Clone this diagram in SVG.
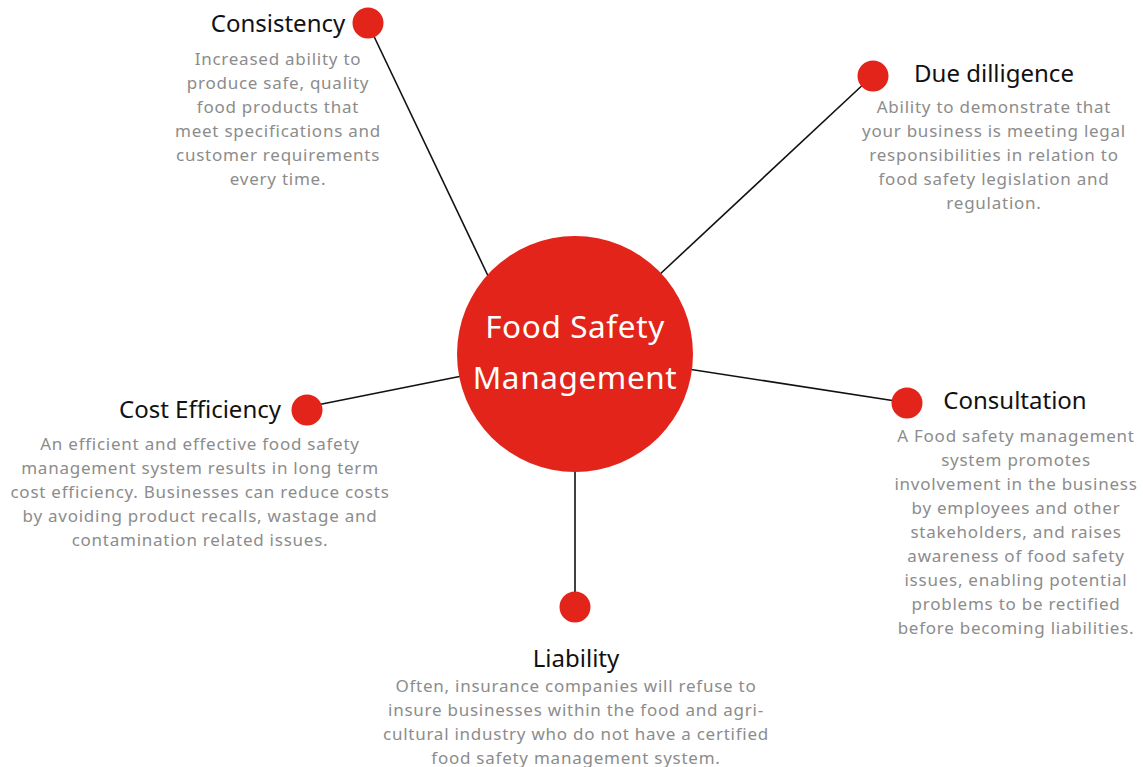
<svg xmlns="http://www.w3.org/2000/svg" width="1143" height="767" viewBox="0 0 1143 767">
<style>
.dot{fill:#e3241a}
.t{font-family:"Noto Sans","Open Sans",sans-serif;font-size:24px;fill:#111;text-anchor:middle}
.d{font-family:"Noto Sans","Open Sans",sans-serif;font-size:17px;letter-spacing:0.75px;fill:#8c8c8c;text-anchor:middle}
.c{font-family:"Noto Sans","Open Sans",sans-serif;font-size:31.5px;letter-spacing:0.6px;fill:#fff;text-anchor:middle}
.ln{stroke:#111;stroke-width:1.6;fill:none}
</style>
<rect width="1143" height="767" fill="#fff"/>
<g id="connectors">
<line class="ln" x1="370" y1="28" x2="490" y2="280"/>
<line class="ln" x1="868" y1="80" x2="658" y2="276"/>
<line class="ln" x1="312" y1="406" x2="462" y2="376"/>
<line class="ln" x1="902" y1="402" x2="688" y2="369"/>
<line class="ln" x1="575" y1="468" x2="575" y2="600"/>
</g>
<g id="center">
<circle class="dot" cx="575" cy="354" r="118"/>
<text class="c" x="575" y="338">Food Safety</text>
<text class="c" x="575" y="389">Management</text>
</g>
<g id="consistency">
<circle class="dot" cx="368" cy="23" r="15.5"/>
<text class="t" x="278" y="32">Consistency</text>
<text class="d"><tspan x="278" y="65">Increased ability to</tspan><tspan x="278" y="89">produce safe, quality</tspan><tspan x="278" y="113">food products that</tspan><tspan x="278" y="137">meet specifications and</tspan><tspan x="278" y="161">customer requirements</tspan><tspan x="278" y="185">every time.</tspan></text>
</g>
<g id="due-dilligence">
<circle class="dot" cx="873" cy="76" r="15.5"/>
<text class="t" x="994" y="82">Due dilligence</text>
<text class="d"><tspan x="994" y="113">Ability to demonstrate that</tspan><tspan x="994" y="137">your business is meeting legal</tspan><tspan x="994" y="161">responsibilities in relation to</tspan><tspan x="994" y="185">food safety legislation and</tspan><tspan x="994" y="209">regulation.</tspan></text>
</g>
<g id="cost-efficiency">
<circle class="dot" cx="307" cy="410" r="15.5"/>
<text class="t" x="200" y="418">Cost Efficiency</text>
<text class="d"><tspan x="200" y="450">An efficient and effective food safety</tspan><tspan x="200" y="474">management system results in long term</tspan><tspan x="200" y="498">cost efficiency. Businesses can reduce costs</tspan><tspan x="200" y="522">by avoiding product recalls, wastage and</tspan><tspan x="200" y="546">contamination related issues.</tspan></text>
</g>
<g id="consultation">
<circle class="dot" cx="907" cy="403" r="15.5"/>
<text class="t" x="1015" y="409">Consultation</text>
<text class="d"><tspan x="1016" y="442">A Food safety management</tspan><tspan x="1016" y="466">system promotes</tspan><tspan x="1016" y="490">involvement in the business</tspan><tspan x="1016" y="514">by employees and other</tspan><tspan x="1016" y="538">stakeholders, and raises</tspan><tspan x="1016" y="562">awareness of food safety</tspan><tspan x="1016" y="586">issues, enabling potential</tspan><tspan x="1016" y="610">problems to be rectified</tspan><tspan x="1016" y="634">before becoming liabilities.</tspan></text>
</g>
<g id="liability">
<circle class="dot" cx="575" cy="607" r="15.5"/>
<text class="t" x="576" y="667">Liability</text>
<text class="d"><tspan x="576" y="692">Often, insurance companies will refuse to</tspan><tspan x="576" y="716">insure businesses within the food and agri-</tspan><tspan x="576" y="740">cultural industry who do not have a certified</tspan><tspan x="576" y="764">food safety management system.</tspan></text>
</g>
</svg>
